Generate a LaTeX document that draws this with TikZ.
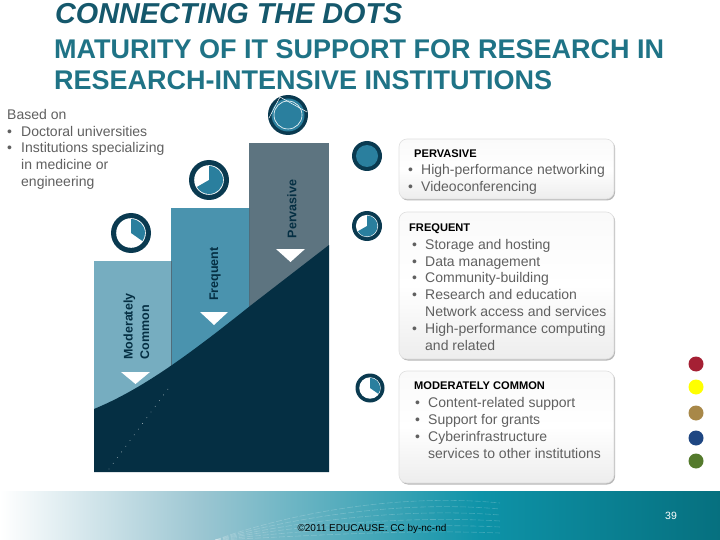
\documentclass[tikz,border=0pt]{standalone}
\usepackage{fontspec}
\setmainfont{Liberation Sans}
\definecolor{navy}{HTML}{052F43}
\definecolor{ringdark}{HTML}{0A3A50}
\definecolor{wedge}{HTML}{2A7F9E}
\definecolor{barA}{HTML}{76ADC0}
\definecolor{barB}{HTML}{4A93AE}
\definecolor{barC}{HTML}{5D7480}
\definecolor{bodygrey}{HTML}{606060}
\definecolor{titleA}{HTML}{15586C}
\definecolor{titleB}{HTML}{1F7386}
\definecolor{bandL}{HTML}{9CC6D2}
\definecolor{bandM}{HTML}{0E93A8}
\definecolor{bandR}{HTML}{06707F}
\definecolor{dotR}{HTML}{A52034}
\definecolor{dotY}{HTML}{FFFF00}
\definecolor{dotB}{HTML}{A88848}
\definecolor{dotN}{HTML}{1E4682}
\definecolor{dotG}{HTML}{547A2C}
\tikzset{
  x=1pt,y=-1pt,
  titletext/.style={anchor=base west,inner sep=0pt,text=titleB,font=\fontsize{27}{27}\selectfont\bfseries},
  bartext/.style={anchor=center,rotate=90,inner sep=0pt,align=center,text=navy,font=\fontsize{12.5}{16.5}\selectfont\bfseries},
  cardshade/.style={fill=black!28,rounded corners=8pt},
  cardbox/.style={draw=black!12,line width=.6pt,rounded corners=8pt,top color=black!2,bottom color=black!7,middle color=white},
  cardhead/.style={anchor=base west,inner sep=0pt,text=black,font=\fontsize{11.1}{12}\selectfont\bfseries},
  bodyline/.style={anchor=base west,inner sep=0pt,text=bodygrey,font=\fontsize{14}{15}\selectfont},
  notch/.style={fill=white,draw=none},
  legenddot/.style={circle,inner sep=0pt,minimum size=15pt,draw=none},
}
\newcommand{\dial}[4]{% cx, cy, outer r, angle sweep
  \fill[ringdark] (#1,#2) circle[radius=#3];
  \fill[white] (#1,#2) circle[radius=#3*0.74];
  \fill[wedge] (#1,#2) -- ++(0,-#3*0.70) arc[start angle=90,delta angle=-#4,radius=#3*0.70pt] -- cycle;
}
\begin{document}
\begin{tikzpicture}
\useasboundingbox (0,0) rectangle (720,540);
\fill[white] (0,0) rectangle (720,540);
% title
\node[titletext,text=titleA,font=\fontsize{28.8}{29}\selectfont\bfseries\itshape] (t1) at (55,24) {CONNECTING THE DOTS};
\node[titletext] (t2) at (54,59) {MATURITY OF IT SUPPORT FOR RESEARCH IN};
\node[titletext] (t3) at (54,90) {RESEARCH-INTENSIVE INSTITUTIONS};
% note
\node[bodyline] (n1) at (7,120) {Based on};
\node[bodyline] (n2b) at (7,137) {•};
\node[bodyline] (n2) at (21,137) {Doctoral universities};
\node[bodyline] (n3b) at (7,153) {•};
\node[bodyline] (n3) at (21,153) {Institutions specializing};
\node[bodyline] (n4) at (21,170) {in medicine or};
\node[bodyline] (n5) at (21,187) {engineering};
% bars
\fill[barA] (94,261) rectangle (172,415);
\fill[barB] (171,208) rectangle (250,380);
\fill[barC] (249,143) rectangle (329,320);
\draw[navy!70,line width=.5pt] (171.5,261) -- (171.5,366);
\draw[navy!70,line width=.5pt] (249.5,208) -- (249.5,306);
% navy mass
\fill[navy] (94,409) .. controls (140,390) and (185,358) .. (250,306) -- (329,245) -- (329,472) -- (94,472) -- cycle;
\foreach \i in {0,...,14}{\fill[white!75!navy] ({109+\i*4.2},{469-\i*5.7}) circle[radius=.45];}
% triangles
\fill[notch] (121,372) -- (150,372) -- (135.5,384) -- cycle;
\fill[notch] (200,312) -- (228,312) -- (214,325) -- cycle;
\fill[notch] (276,249) -- (305,249) -- (290.5,262) -- cycle;
% bar labels
\node[bartext,align=left] (l1) at (136.5,326.5) {Moderately\\Common};
\node[bartext] (l2) at (215,274) {Frequent};
\node[bartext] (l3) at (292,209) {Pervasive};
% dials over bars
\dial{131}{233}{20}{125}
\dial{209}{180}{20}{240}
\fill[ringdark] (288,115) circle[radius=20];
\fill[wedge] (288,115) circle[radius=16.5];
\draw[white,line width=.6pt] (288,115) circle[radius=14];
\draw[white,line width=.5pt] (269,118) -- (280,97) -- (307,112);
% dials beside cards
\fill[ringdark] (367,156) circle[radius=15];
\fill[wedge] (367,156) circle[radius=11];
\dial{367}{226}{15}{240}
\dial{370}{388}{14.5}{125}
% cards
\fill[cardshade] (400,140) rectangle (615,200.5);
\fill[cardshade] (400,213) rectangle (615,360.5);
\fill[cardshade] (400,372) rectangle (615,484.5);
\path[cardbox] (399,139) rectangle (614,199);
\path[cardbox] (399,212) rectangle (614,359);
\path[cardbox] (399,371) rectangle (614,483);
\node[cardhead] (c1) at (414,158) {PERVASIVE};
\node[bodyline] (b1a) at (408,175) {•};
\node[bodyline] (b1) at (421,175) {High-performance networking};
\node[bodyline] (b2a) at (408,192) {•};
\node[bodyline] (b2) at (421,192) {Videoconferencing};
\node[cardhead] (c2) at (409,231) {FREQUENT};
\foreach \yy/\tx in {249/Storage and hosting,266/Data management,282/Community-building,299/Research and education,333/High-performance computing}{
  \node[bodyline] at (412,\yy) {•};
  \node[bodyline] at (425,\yy) {\tx};
}
\node[bodyline] (f5) at (425,316) {Network access and services};
\node[bodyline] (f7) at (425,350) {and related};
\node[cardhead] (c3) at (414,389) {MODERATELY COMMON};
\foreach \yy/\tx in {407/Content-related support,424/Support for grants,441/Cyberinfrastructure}{
  \node[bodyline] at (415,\yy) {•};
  \node[bodyline] at (428,\yy) {\tx};
}
\node[bodyline] (m4) at (428,458) {services to other institutions};
% legend dots
\node[legenddot,fill=dotR] (r) at (696,364) {};
\node[legenddot,fill=dotY] (y) at (696,387) {};
\node[legenddot,fill=dotB] (br) at (696,413) {};
\node[legenddot,fill=dotN] (bl) at (696,438) {};
\node[legenddot,fill=dotG] (gr) at (696,461) {};
% band
\shade[left color=white,right color=bandL] (0,491) rectangle (200,540);
\shade[left color=bandL,right color=bandM] (200,491) rectangle (480,540);
\shade[left color=bandM,right color=bandR] (480,491) rectangle (720,540);
\foreach \yy/\bnd in {503/10,509/9,515/8,521/6,527/5,533/4}{
  \draw[white,opacity=.2,line width=.6pt,dash pattern=on 6pt off 2pt] (215,540) .. controls (290,\yy+\bnd) and (400,\yy-\bnd) .. (500,\yy);
}
\node[anchor=base,inner sep=0pt,text=black,font=\fontsize{10}{11}\selectfont] (cp) at (372,531) {©2011 EDUCAUSE. CC by-nc-nd};
\node[anchor=base,inner sep=0pt,text=white,font=\fontsize{10.5}{11}\selectfont] (pg) at (671,519) {39};
\end{tikzpicture}
\end{document}
